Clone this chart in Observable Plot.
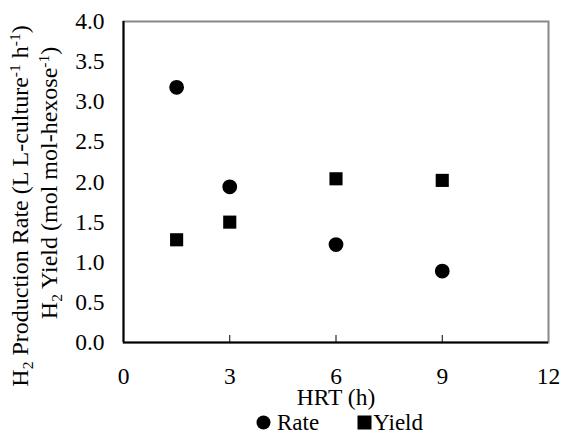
<!DOCTYPE html>
<html>
<head>
<meta charset="utf-8">
<script src="https://cdn.jsdelivr.net/npm/d3@7"></script>
<script src="https://cdn.jsdelivr.net/npm/@observablehq/plot@0.6"></script>
<style>
  html, body { margin: 0; padding: 0; background: #fff; }
  #wrap { width: 564px; font-family: "Liberation Serif", "Times New Roman", serif; }
  #chart svg, #chart svg text { font-family: "Liberation Serif", "Times New Roman", serif !important; }
  #legend { display: flex; justify-content: flex-start; align-items: center; height: 25px; font-size: 23px; color: #000; padding-left: 256px; box-sizing: border-box; }
  #legend .item { display: flex; align-items: center; }
  #legend .item + .item { margin-left: 38px; }
</style>
</head>
<body>
<div id="wrap"><div id="chart"></div><div id="legend"></div></div>
<script>
const hrt = [1.5, 3, 6, 9];
const rate = [3.18, 1.94, 1.22, 0.89];
const yieldV = [1.28, 1.50, 2.04, 2.02];
const xTicks = [0, 3, 6, 9, 12];
const yTicks = [0, 0.5, 1, 1.5, 2, 2.5, 3, 3.5, 4];
const seriesNames = ["Rate", "Yield"];

const data = [
  ...hrt.map((h, i) => ({hrt: h, value: rate[i], series: seriesNames[0]})),
  ...hrt.map((h, i) => ({hrt: h, value: yieldV[i], series: seriesNames[1]}))
];

const W = 564, H = 410;
const FS = 23.5;
const plot = Plot.plot({
  width: W,
  height: H,
  marginLeft: 123,
  marginRight: 16,
  marginTop: 21,
  marginBottom: H - 342,
  style: {fontFamily: "Liberation Serif, serif", fontSize: FS + "px", color: "#000", background: "#fff"},
  x: {domain: [0, 12], ticks: xTicks},
  y: {domain: [0, 4], ticks: yTicks},
  symbol: {domain: seriesNames, range: ["circle", "square"]},
  marks: [
    Plot.frame({stroke: "#888", strokeWidth: 2}),
    Plot.ruleX(xTicks.slice(1, -1), {stroke: "#000", strokeWidth: 1, insetTop: 314}),
    Plot.axisY({ticks: yTicks, tickSize: 0, tickPadding: 19, tickFormat: d => d.toFixed(1), label: null, fontSize: FS}),
    Plot.axisX({ticks: xTicks, tickSize: 0, tickPadding: 25, tickFormat: d => String(d), label: null, fontSize: FS}),
    Plot.ruleY([0], {stroke: "#000", strokeWidth: 2}),
    Plot.ruleX([0], {stroke: "#000", strokeWidth: 2}),
    Plot.dot(data, {x: "hrt", y: "value", symbol: "series", fill: "#000", stroke: "none", r: 7.4}),
    Plot.text(["HRT (h)"], {frameAnchor: "bottom", dy: 62, text: d => d, fontSize: FS, fill: "#000"})
  ]
});
document.getElementById("chart").appendChild(plot);

// Y axis title with subscripts / superscripts
const svg = d3.select(plot);
function addLine(cx, cy, parts) {
  const t = svg.append("text")
    .attr("transform", `translate(${cx},${cy}) rotate(-90)`)
    .attr("text-anchor", "middle")
    .attr("font-size", 24)
    .attr("fill", "#000");
  parts.forEach(p => {
    const ts = t.append("tspan").text(p.t);
    if (p.sub) ts.attr("font-size", 15.5).attr("dy", 5);
    if (p.sup) ts.attr("font-size", 15.5).attr("dy", -8);
    if (p.back) ts.attr("dy", p.back);
  });
}
addLine(28, 206, [
  {t: "H"}, {t: "2", sub: true}, {t: " Production Rate (L L-culture", back: -5},
  {t: "-1", sup: true}, {t: " h", back: 8}, {t: "-1", sup: true}, {t: ")", back: 8}
]);
addLine(57, 183, [
  {t: "H"}, {t: "2", sub: true}, {t: " Yield (mol mol-hexose", back: -5},
  {t: "-1", sup: true}, {t: ")", back: 8}
]);

// Legend
const legend = d3.select("#legend");
seriesNames.forEach((name, i) => {
  const item = legend.append("div").attr("class", "item");
  const s = item.append("svg").attr("width", 15).attr("height", 15);
  if (i === 0) {
    s.style("margin-right", "6px");
    s.append("circle").attr("cx", 7.5).attr("cy", 7.5).attr("r", 7).attr("fill", "#000");
  } else {
    s.style("margin-right", "1px");
    s.append("rect").attr("x", 0.5).attr("y", 0.5).attr("width", 14).attr("height", 14).attr("fill", "#000");
  }
  item.append("span").text(name);
});
</script>
</body>
</html>
